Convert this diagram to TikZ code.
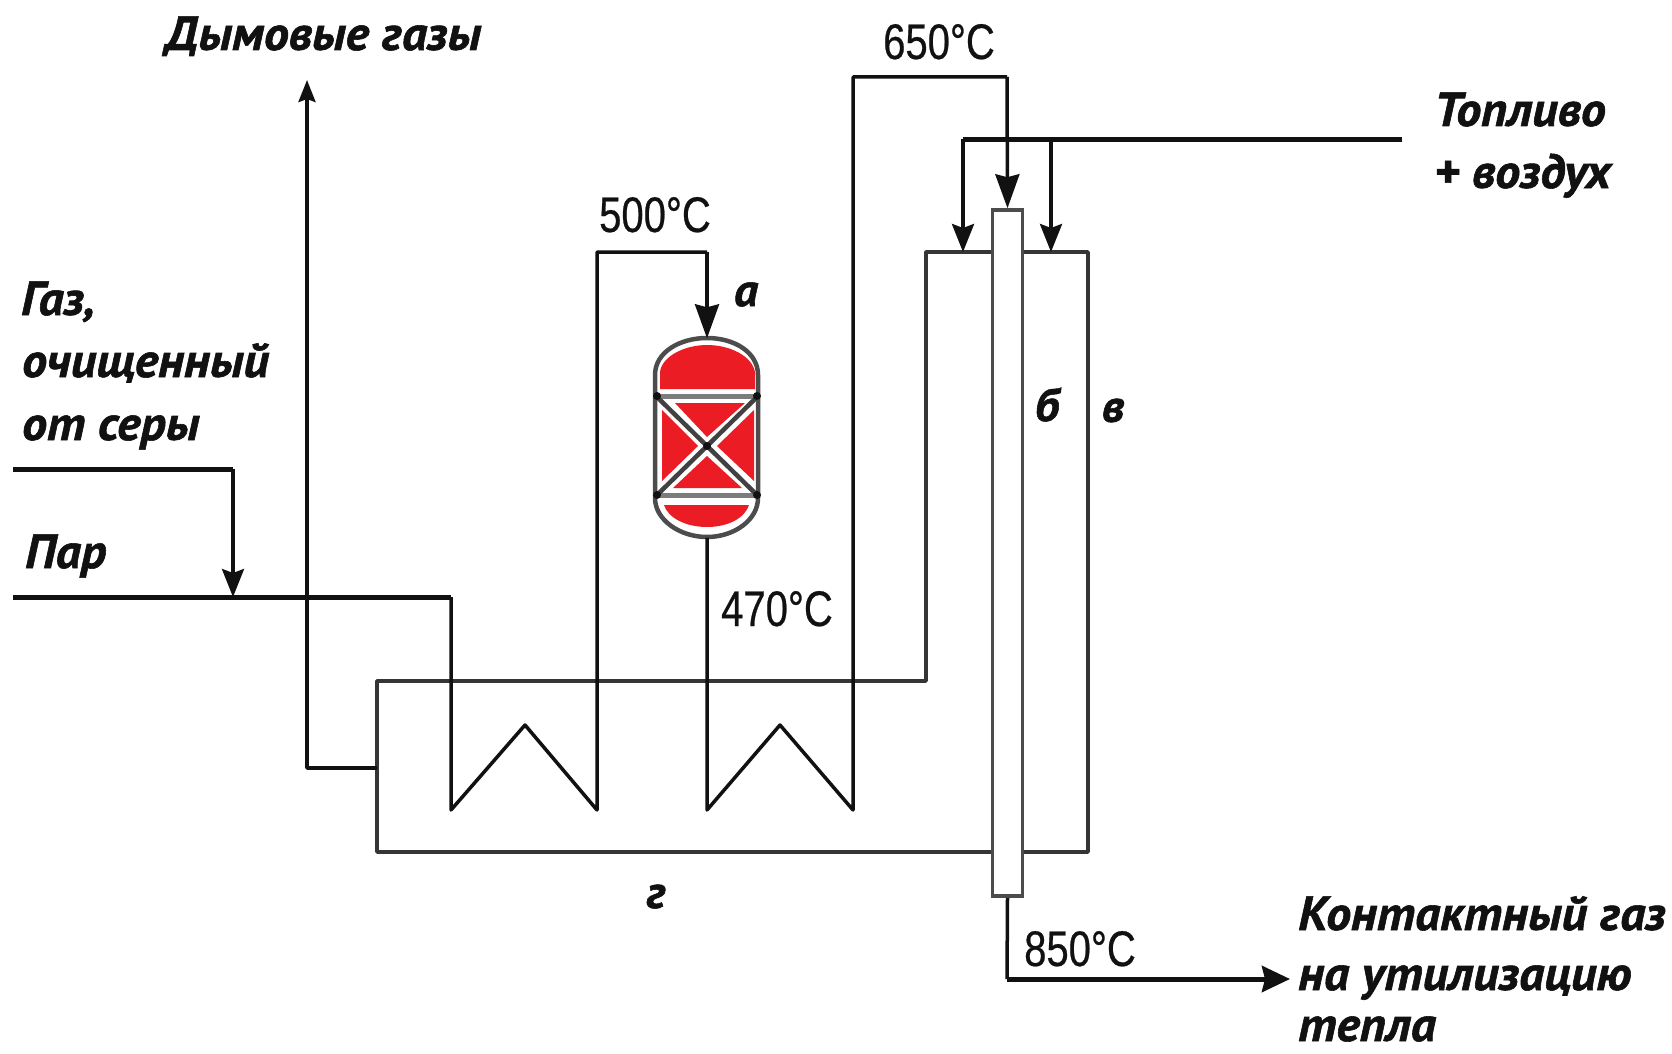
\documentclass[tikz,border=0pt]{standalone}
\usepackage{fontspec}
\usetikzlibrary{arrows.meta}
\newfontfamily\lblfont[BoldItalicFont={PT Sans Bold Italic},BoldItalicFeatures={FakeBold=1.2,FakeStretch=1.04}]{PT Sans}
\newfontfamily\tempfont[FakeStretch=0.8,FakeBold=0.5]{Liberation Sans}
\definecolor{ink}{HTML}{111111}
\definecolor{redfill}{HTML}{EC1C24}
\tikzset{
 lbl/.style={anchor=base west,inner sep=0pt,font=\fontsize{48}{48}\selectfont\lblfont\bfseries\itshape,text=ink},
 lettr/.style={anchor=base,inner sep=0pt,font=\fontsize{46}{46}\selectfont\lblfont\bfseries\itshape,text=ink},
 temp/.style={anchor=base west,inner sep=0pt,font=\fontsize{50}{50}\selectfont\tempfont,text=ink},
 pipe/.style={draw=ink,line width=3.5pt,line join=round},
 thick pipe/.style={draw=ink,line width=5pt,line join=round},
 furnace/.style={draw=ink!85,line width=3.5pt,line join=round},
 bigtip/.style={-{Stealth[length=34pt,width=24pt,inset=3pt]}},
 smalltip/.style={-{Stealth[length=28pt,width=22pt,inset=4pt]}},
 tubebox/.style={draw=ink!75,fill=white,line width=3.5pt,minimum width=30pt,minimum height=686pt,inner sep=0pt},
}
\begin{document}
\begin{tikzpicture}[x=1pt,y=-1pt]
\useasboundingbox (0,0) rectangle (1672,1054);
% junction coordinates
\coordinate (gasin) at (13,469);
\coordinate (gasbend) at (233,469);
\coordinate (gasdrop) at (233,597);
\coordinate (steamin) at (13,597);
\coordinate (steambend) at (451,597);
\coordinate (c1a) at (451,810);
\coordinate (c1p) at (525,725);
\coordinate (c1b) at (597,810);
\coordinate (c1t) at (597,252);
\coordinate (c1r) at (707,252);
\coordinate (c2a) at (707,810);
\coordinate (c2p) at (780,725);
\coordinate (c2b) at (853,810);
\coordinate (c2t) at (853,77);
\coordinate (c2r) at (1007,77);
\coordinate (fuelin) at (1402,139);
\coordinate (fuelL) at (963,139);
\coordinate (fuelR) at (1051,139);
\coordinate (fdropL) at (963,252);
\coordinate (fdropR) at (1051,252);
\coordinate (fluebase) at (377,768);
\coordinate (fluecorner) at (307,768);
\coordinate (fluetop) at (307,80);
\coordinate (outcorner) at (1007,979);
\coordinate (outend) at (1290,979);
% furnace
\draw[furnace] (926,252) -- (926,681) -- (377,681) -- (377,852) -- (1088,852) -- (1088,252) -- cycle;
% tube
\node[tubebox] (tube) at (1007.5,553) {};
% reactor
\node[minimum width=103pt,minimum height=199pt,inner sep=0pt] (reactor) at (707,438) {};
\fill[white] (655,375) .. controls (655,352) and (680,338) .. (707,338) .. controls (734,338) and (758,352) .. (758,375) -- (758,498) .. controls (758,520) and (734,537) .. (707,537) .. controls (680,537) and (655,520) .. (655,498) -- cycle;
\fill[redfill] (660,389) -- (660,372) .. controls (662,356) and (685,345) .. (707,345) .. controls (730,345) and (752,356) .. (755,372) -- (755,389) -- cycle;
\fill[redfill] (664,505) -- (749,505) .. controls (745,518) and (728,527) .. (707,527) .. controls (686,527) and (668,518) .. (664,505) -- cycle;
\fill[redfill] (675,403) -- (745,403) -- (707,437) -- cycle;
\fill[redfill] (662,410) -- (662,481) -- (698,446) -- cycle;
\fill[redfill] (754,410) -- (754,481) -- (717,446) -- cycle;
\fill[redfill] (707,456) -- (742,488) -- (673,488) -- cycle;
\draw[ink!55,line width=5pt] (657,396) -- (757,396) (657,495) -- (757,495);
\draw[ink!80,line width=4.5pt] (657,397) -- (757,495) (757,397) -- (657,495);
\draw[ink!75,line width=4.5pt] (655,375) .. controls (655,352) and (680,338) .. (707,338) .. controls (734,338) and (758,352) .. (758,375) -- (758,498) .. controls (758,520) and (734,537) .. (707,537) .. controls (680,537) and (655,520) .. (655,498) -- cycle;
\fill[ink] (657,396) circle (4pt) (757,396) circle (4pt) (657,495) circle (4pt) (757,495) circle (4pt) (707,446) circle (4pt);
% connectors
\draw[thick pipe] (steamin) -- (steambend);
\draw[pipe] (steambend) -- (c1a) -- (c1p) -- (c1b) -- (c1t) -- (c1r);
\draw[pipe,bigtip] (c1r) -- (reactor.north -| c1r);
\draw[pipe] (reactor.south) -- (c2a) -- (c2p) -- (c2b) -- (c2t) -- (c2r);
\draw[pipe,bigtip] (c2r) -- (tube.north);
\draw[thick pipe] (fuelin) -- (fuelL);
\draw[pipe,smalltip] (fuelL) -- (fdropL);
\draw[pipe,smalltip] (fuelR) -- (fdropR);
\draw[thick pipe] (gasin) -- (gasbend);
\draw[pipe,smalltip] (gasbend) -- (gasdrop);
\draw[pipe,-{Stealth[length=22pt,width=17pt,inset=3pt]}] (fluebase) -- (fluecorner) -- (fluetop);
\draw[pipe] (tube.south) -- (outcorner);
\draw[thick pipe,-{Stealth[length=28pt,width=26pt,inset=3pt]}] (outcorner) -- (outend);
% labels
\node[lbl] (t1) at (165,50) {Дымовые газы};
\node[lbl] (t2) at (1434,126) {Топливо};
\node[lbl] (t3) at (1434,188) {+ воздух};
\node[lbl] (t4) at (21,315) {Газ,};
\node[lbl] (t5) at (22,377) {очищенный};
\node[lbl] (t6) at (22,440) {от серы};
\node[lbl] (t7) at (25,568) {Пар};
\node[lbl] (t8) at (1298,930) {Контактный газ};
\node[lbl] (t9) at (1298,990) {на утилизацию};
\node[lbl] (t10) at (1298,1041) {тепла};
\node[lettr] (la) at (746,306) {а};
\node[lettr] (lb) at (1047,421) {б};
\node[lettr] (lv) at (1113,422) {в};
\node[lettr] (lg) at (656,908) {г};
\node[temp] (T1) at (883,59) {650°C};
\node[temp] (T2) at (599,232) {500°C};
\node[temp] (T3) at (721,626) {470°C};
\node[temp] (T4) at (1024,966) {850°C};
\end{tikzpicture}
\end{document}
